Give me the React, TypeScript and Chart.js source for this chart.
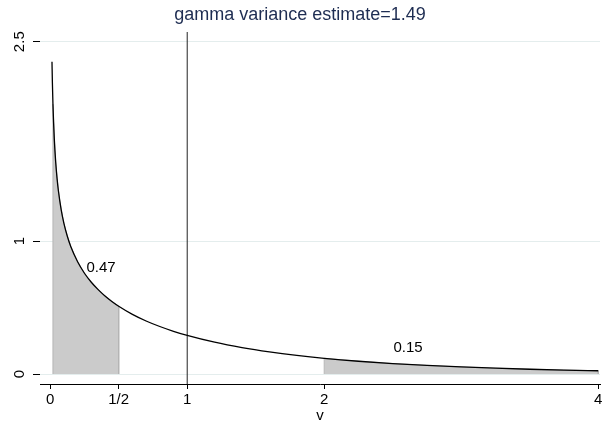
import { useEffect, useRef } from 'react';
import { Chart, registerables } from 'chart.js';

Chart.register(...registerables);

const FONT = "'Liberation Sans', Arial, Helvetica, sans-serif";

const titleText = 'gamma variance estimate=1.49';
const xAxisTitle = 'v';

// density curve
const vValues = [0.013, 0.016, 0.02, 0.03, 0.04, 0.05, 0.06, 0.08, 0.1, 0.125, 0.15, 0.2, 0.25, 0.3, 0.35, 0.4, 0.45, 0.5, 0.6, 0.7, 0.8, 0.9, 1, 1.2, 1.4, 1.6, 1.8, 2, 2.25, 2.5, 2.75, 3, 3.25, 3.5, 3.75, 4];
const densityValues = [2.35, 2.19, 2.03, 1.765, 1.595, 1.472, 1.377, 1.236, 1.133, 1.036, 0.959, 0.844, 0.758, 0.69, 0.635, 0.587, 0.546, 0.51, 0.449, 0.399, 0.3575, 0.3216, 0.2905, 0.2392, 0.1988, 0.1664, 0.14, 0.1182, 0.0961, 0.0785, 0.0644, 0.0529, 0.0435, 0.0359, 0.0297, 0.0246];

// shaded intervals and their area labels
const shadeStart = [0.02, 2];
const shadeEnd = [0.5, 4];
const areaLabels = ['0.47', '0.15'];
const areaLabelX = [0.371, 2.612];
const areaLabelY = [0.798, 0.199];

const markerX = 1;

const xTickValues = [0, 0.5, 1, 2, 4];
const xTickLabels = ['0', '1/2', '1', '2', '4'];
const yTickValues = [0, 1, 2.5];
const yTickLabels = ['0', '1', '2.5'];

const xMin = -0.0745;
const xMax = 4.013;
const yMin = -0.0752;
const yMax = 2.573;

function curvePoints() {
  return vValues.map((v, i) => ({ x: v, y: densityValues[i] }));
}

function shadePoints(a: number, b: number) {
  const pts = vValues
    .map((v, i) => ({ x: v, y: densityValues[i] }))
    .filter((p) => p.x >= a - 1e-9 && p.x <= b + 1e-9);
  return [{ x: pts[0].x, y: 0 }, ...pts, { x: pts[pts.length - 1].x, y: 0 }];
}

const labelPlugin = {
  id: 'customLabels',
  afterDraw(chart: any) {
    const ctx = chart.ctx;
    const ys = chart.scales.y;
    const xs = chart.scales.x;
    ctx.save();
    ctx.fillStyle = '#000';
    ctx.font = `15px ${FONT}`;
    ctx.textAlign = 'center';
    ctx.textBaseline = 'middle';
    yTickValues.forEach((v, i) => {
      const py = ys.getPixelForValue(v);
      ctx.save();
      ctx.translate(ys.left + 19.5, py);
      ctx.rotate(-Math.PI / 2);
      ctx.fillText(yTickLabels[i], 0, 0);
      ctx.restore();
    });
    areaLabels.forEach((t, i) => {
      ctx.fillText(t, xs.getPixelForValue(areaLabelX[i]), ys.getPixelForValue(areaLabelY[i]));
    });
    ctx.restore();
  },
};

export default function App() {
  const ref = useRef<HTMLCanvasElement | null>(null);

  useEffect(() => {
    if (!ref.current) return;
    const shadeSets = shadeStart.map((a, i) => ({
      data: shadePoints(a, shadeEnd[i]),
      borderColor: '#b4b4b4',
      borderWidth: 1,
      backgroundColor: '#cbcbcb',
      fill: 'origin',
      pointRadius: 0,
      tension: 0,
      order: 3,
    }));
    const chart = new Chart(ref.current, {
      type: 'line',
      data: {
        datasets: [
          {
            data: curvePoints(),
            borderColor: '#000',
            borderWidth: 1.3,
            pointRadius: 0,
            fill: false,
            cubicInterpolationMode: 'monotone',
            order: 0,
          },
          {
            data: [
              { x: markerX, y: yMin },
              { x: markerX, y: yMax },
            ],
            borderColor: '#222',
            borderWidth: 1,
            pointRadius: 0,
            fill: false,
            order: 1,
          },
          ...shadeSets,
        ] as any,
      },
      options: {
        animation: false,
        responsive: false,
        maintainAspectRatio: false,
        layout: { padding: { left: 0, right: 2, top: 0, bottom: 0 } },
        plugins: {
          legend: { display: false },
          tooltip: { enabled: false },
          title: {
            display: true,
            text: titleText,
            color: '#1e2d52',
            font: { family: FONT, size: 18, weight: 'normal', lineHeight: 1.2 },
            padding: { top: 4.2, bottom: 6.2 },
          },
        },
        scales: {
          x: {
            type: 'linear',
            min: xMin,
            max: xMax,
            afterBuildTicks: (s: any) => {
              s.ticks = xTickValues.map((v) => ({ value: v }));
            },
            afterFit: (s: any) => {
              s.height = 41;
              s.paddingLeft = 0;
              s.paddingRight = 0;
            },
            ticks: {
              autoSkip: false,
              maxRotation: 0,
              minRotation: 0,
              padding: 2,
              color: '#000',
              font: { family: FONT, size: 15 },
              callback: (v: any) => {
                const i = xTickValues.indexOf(Number(v));
                return i >= 0 ? xTickLabels[i] : '';
              },
            },
            grid: {
              display: true,
              drawOnChartArea: false,
              drawTicks: true,
              tickLength: 5,
              tickColor: '#000',
              tickWidth: 1,
            },
            border: { display: true, color: '#000', width: 1 },
            title: {
              display: true,
              text: xAxisTitle,
              color: '#000',
              font: { family: FONT, size: 15 },
              padding: { top: 0, bottom: 0 },
            },
          },
          y: {
            type: 'linear',
            min: yMin,
            max: yMax,
            afterBuildTicks: (s: any) => {
              s.ticks = yTickValues.map((v) => ({ value: v }));
            },
            afterFit: (s: any) => {
              s.width = 40;
              s.paddingTop = 0;
              s.paddingBottom = 0;
            },
            ticks: { display: false },
            grid: {
              color: '#e4eded',
              lineWidth: 1,
              drawTicks: true,
              tickLength: 7,
              tickColor: '#000',
              tickWidth: 1,
            },
            border: { display: false },
          },
        },
      } as any,
      plugins: [labelPlugin],
    });
    return () => chart.destroy();
  }, []);

  return (
    <div style={{ position: 'fixed', left: 0, top: 0, width: 602, height: 425, background: '#fff' }}>
      <canvas ref={ref} width={602} height={425} style={{ display: 'block', width: 602, height: 425 }} />
    </div>
  );
}
